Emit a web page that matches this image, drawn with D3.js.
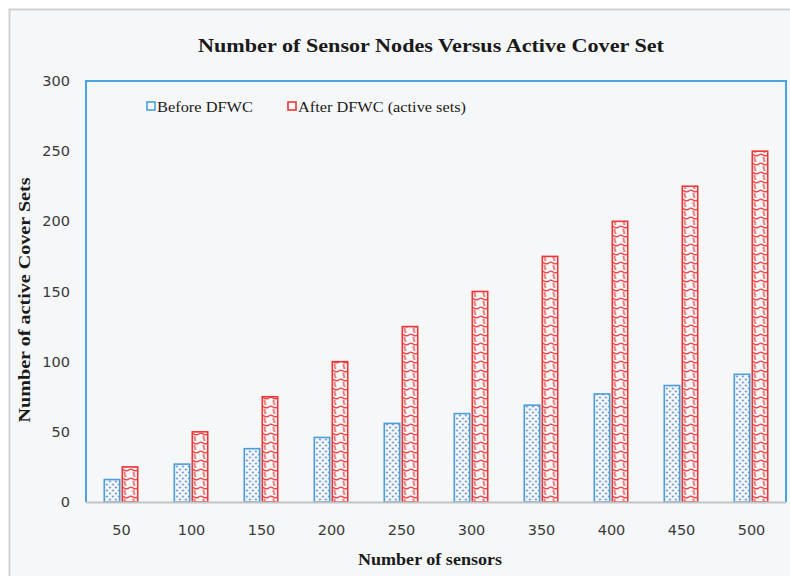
<!DOCTYPE html>
<html>
<head>
<meta charset="utf-8">
<script src="https://cdn.jsdelivr.net/npm/d3@7"></script>
<style>
  html, body { margin: 0; padding: 0; background: #ffffff; }
  svg { display: block; }
</style>
</head>
<body>
<svg id="chart" width="790" height="576"></svg>
<script>
// Sensor counts along the x axis
const sensors = ["50", "100", "150", "200", "250", "300", "350", "400", "450", "500"];
// Active cover sets before and after DFWC
const beforeDFWC = [16, 27, 38, 46, 56, 63, 69, 77, 83, 91];
const afterDFWC = [25, 50, 75, 100, 125, 150, 175, 200, 225, 250];
const seriesNames = ["Before DFWC", "After DFWC (active sets)"];
const yTicks = [0, 50, 100, 150, 200, 250, 300];

const svg = d3.select("#chart");
const plot = { left: 86, right: 786, top: 81, bottom: 502 };

// Outer chart frame
svg.append("rect")
  .attr("x", 9.5).attr("y", 9.5)
  .attr("width", 800).attr("height", 600)
  .attr("fill", "#f6f7f8")
  .attr("stroke", "#d2d2d2").attr("stroke-width", 2);

// Fill patterns
const defs = svg.append("defs");
const dots = defs.append("pattern")
  .attr("id", "dots").attr("patternUnits", "userSpaceOnUse")
  .attr("width", 6).attr("height", 6);
dots.append("rect").attr("width", 6).attr("height", 6).attr("fill", "#f6f7f8");
[[1.5, 1.5], [4.5, 4.5]].forEach(([cx, cy]) => {
  dots.append("circle").attr("cx", cx).attr("cy", cy).attr("r", 0.9).attr("fill", "#3b78c8");
});

const wave = defs.append("pattern")
  .attr("id", "wave").attr("patternUnits", "userSpaceOnUse")
  .attr("width", 9).attr("height", 9);
wave.append("rect").attr("width", 9).attr("height", 9).attr("fill", "#f6f7f8");
wave.append("path")
  .attr("d", "M0,1.5 C2.5,-1 5,6 9,1.5 M4.5,3.8 C3,5.5 6,7.5 4.5,10 M4.5,-1 L4.5,0")
  .attr("fill", "none").attr("stroke", "#ec3b3b").attr("stroke-width", 1.3);

// Scales
const x0 = d3.scaleBand().domain(sensors)
  .range([plot.left, plot.right])
  .paddingInner(0.47).paddingOuter(0.235);
const x1 = d3.scaleBand().domain(seriesNames)
  .range([0, x0.bandwidth()]).padding(0.06);
const y = d3.scaleLinear().domain([0, 300]).range([plot.bottom, plot.top]);

// Y tick labels
const yAxis = d3.axisLeft(y).tickValues(yTicks).tickSize(0).tickPadding(0);
const yg = svg.append("g").attr("transform", `translate(70,0)`).call(yAxis);
yg.select(".domain").remove();
yg.selectAll("text")
  .attr("font-family", "DejaVu Sans, sans-serif")
  .attr("font-size", 14.5).attr("fill", "#3a3a3a");

// X tick labels centred under each bar pair
const xCenters = d3.scalePoint().domain(sensors)
  .range([x0(sensors[0]) + x0.bandwidth() / 2, x0(sensors[sensors.length - 1]) + x0.bandwidth() / 2]);
const xAxis = d3.axisBottom(xCenters).tickSize(0).tickPadding(0);
const xg = svg.append("g").attr("transform", `translate(0,525)`).call(xAxis);
xg.select(".domain").remove();
xg.selectAll("text")
  .attr("font-family", "DejaVu Sans, sans-serif")
  .attr("font-size", 14.5).attr("fill", "#3a3a3a");

// Bars
const rows = sensors.map((s, i) => ({ s, values: [beforeDFWC[i], afterDFWC[i]] }));
const groups = svg.append("g").selectAll("g").data(rows).join("g")
  .attr("transform", d => `translate(${x0(d.s)},0)`);
groups.selectAll("rect")
  .data(d => d.values.map((v, k) => ({ k, v })))
  .join("rect")
  .attr("x", d => x1(seriesNames[d.k]) + 0.75)
  .attr("y", d => y(d.v))
  .attr("width", x1.bandwidth() - 1.5)
  .attr("height", d => y(0) - y(d.v))
  .attr("fill", d => d.k === 0 ? "url(#dots)" : "url(#wave)")
  .attr("stroke", d => d.k === 0 ? "#4a9fdc" : "#ee3636")
  .attr("stroke-width", 1.6);

// Plot frame: blue on three sides, grey baseline
svg.append("path")
  .attr("d", `M${plot.left},${plot.bottom} V${plot.top} H${plot.right} V${plot.bottom}`)
  .attr("fill", "none").attr("stroke", "#4aa3df").attr("stroke-width", 2);
svg.append("line")
  .attr("x1", plot.left).attr("x2", plot.right)
  .attr("y1", plot.bottom + 0.5).attr("y2", plot.bottom + 0.5)
  .attr("stroke", "#c4c4c4").attr("stroke-width", 2);

// Title
svg.append("text")
  .attr("x", 431).attr("y", 52)
  .attr("text-anchor", "middle")
  .attr("font-family", "Liberation Serif, serif")
  .attr("font-weight", "bold")
  .attr("font-size", 19)
  .attr("textLength", 466).attr("lengthAdjust", "spacingAndGlyphs")
  .attr("fill", "#1a1a1a")
  .text("Number of Sensor Nodes Versus Active Cover Set");

// Axis titles
svg.append("text")
  .attr("x", 430).attr("y", 565)
  .attr("text-anchor", "middle")
  .attr("font-family", "Liberation Serif, serif")
  .attr("font-weight", "bold").attr("font-size", 16.5)
  .attr("textLength", 144).attr("lengthAdjust", "spacingAndGlyphs")
  .attr("fill", "#1a1a1a")
  .text("Number of sensors");

svg.append("text")
  .attr("transform", "translate(30,300) rotate(-90)")
  .attr("text-anchor", "middle")
  .attr("font-family", "Liberation Serif, serif")
  .attr("font-weight", "bold").attr("font-size", 16.5)
  .attr("textLength", 245).attr("lengthAdjust", "spacingAndGlyphs")
  .attr("fill", "#1a1a1a")
  .text("Number of active Cover Sets");

// Legend
const legendItems = [
  { name: seriesNames[0], x: 147, fill: "url(#dots)", stroke: "#4a9fdc", w: 96 },
  { name: seriesNames[1], x: 288, fill: "url(#wave)", stroke: "#ee3636", w: 168 }
];
const lg = svg.append("g").selectAll("g").data(legendItems).join("g")
  .attr("transform", d => `translate(${d.x},102)`);
lg.append("rect")
  .attr("width", 8).attr("height", 8)
  .attr("fill", "#f6f7f8")
  .attr("stroke", d => d.stroke).attr("stroke-width", 1.6);
lg.append("text")
  .attr("x", 10).attr("y", 9.5)
  .attr("font-family", "Liberation Serif, serif")
  .attr("font-size", 15.5)
  .attr("textLength", d => d.w).attr("lengthAdjust", "spacingAndGlyphs")
  .attr("fill", "#1a1a1a")
  .text(d => d.name);
</script>
</body>
</html>
